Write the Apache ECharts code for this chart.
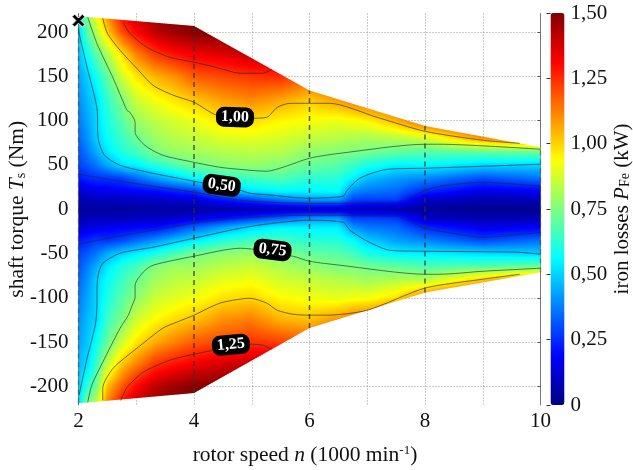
<!DOCTYPE html>
<html>
<head>
  <meta charset="utf-8">
  <title>Iron losses map</title>
  <script src="https://cdn.jsdelivr.net/npm/echarts@6/dist/echarts.min.js"></script>
  <style>html,body{margin:0;padding:0;background:#fff}</style>
</head>
<body>
  <div id="chart" style="width: 633px; height: 470px;"></div>

  <script>
    // values
    const speeds = [2, 2.15, 2.3, 2.5, 2.75, 3, 3.33, 3.66, 4, 4.5, 5, 5.5, 6, 6.5, 6.75, 7, 7.5, 8, 9, 10];
    const torques = [220, 200, 175, 150, 125, 100, 80, 65, 50, 35, 20, 10, 0,
      -10, -20, -35, -50, -65, -80, -100, -125, -150, -175, -200, -220];
    // iron losses in kW, one row per torque, one value per speed
    const losses = [
      [.53,.76,.92,1.1,1.3,1.4,1.46,1.5,1.5,1.5,1.5,1.5,1.5,1.5,1.5,1.5,1.5,1.5,1.5,1.5],
      [.49,.69,.82,1.01,1.2,1.31,1.41,1.46,1.49,1.5,1.5,1.5,1.5,1.5,1.5,1.5,1.5,1.5,1.5,1.5],
      [.46,.58,.69,.82,.98,1.12,1.23,1.29,1.33,1.36,1.41,1.42,1.4,1.4,1.4,1.4,1.4,1.4,1.4,1.4],
      [.43,.49,.58,.70,.87,.97,1.05,1.1,1.18,1.21,1.24,1.25,1.18,1.3,1.3,1.3,1.3,1.3,1.3,1.3],
      [.40,.46,.51,.64,.75,.87,.93,.98,1.03,1.09,1.12,1.08,1.02,1.1,1.15,1.2,1.25,1.3,1.3,1.3],
      [.37,.43,.50,.60,.69,.79,.84,.88,.91,.98,.99,.95,.93,.91,.93,.95,1.05,1.2,1.3,1.3],
      [.34,.40,.49,.57,.65,.72,.79,.83,.85,.89,.90,.88,.85,.83,.82,.81,.83,.87,1.1,1.2],
      [.31,.37,.44,.53,.61,.66,.75,.79,.80,.83,.84,.83,.78,.76,.75,.74,.71,.69,.71,.73],
      [.28,.32,.36,.44,.52,.55,.62,.68,.73,.77,.78,.76,.72,.69,.65,.60,.55,.56,.51,.50],
      [.22,.24,.26,.26,.28,.34,.42,.49,.56,.62,.66,.68,.63,.62,.55,.47,.42,.39,.30,.36],
      [.12,.13,.15,.16,.17,.18,.19,.23,.26,.43,.52,.55,.55,.56,.39,.36,.34,.24,.15,.17],
      [.07,.08,.09,.09,.09,.10,.10,.11,.12,.20,.27,.35,.40,.40,.28,.27,.27,.10,.07,.08],
      [.05,.05,.05,.05,.05,.05,.05,.05,.05,.06,.07,.08,.09,.09,.09,.08,.06,.04,.03,.03],
      [.07,.08,.09,.09,.09,.10,.10,.11,.14,.20,.26,.33,.40,.41,.28,.28,.27,.10,.07,.08],
      [.12,.13,.15,.16,.17,.18,.19,.25,.33,.42,.50,.55,.54,.54,.40,.36,.34,.24,.15,.17],
      [.22,.24,.27,.26,.29,.34,.40,.47,.53,.61,.66,.66,.62,.61,.56,.49,.42,.38,.29,.35],
      [.28,.32,.36,.44,.50,.54,.60,.67,.73,.77,.79,.75,.71,.69,.66,.60,.55,.54,.51,.49],
      [.31,.37,.44,.53,.61,.66,.76,.80,.80,.84,.86,.82,.78,.75,.75,.73,.71,.68,.69,.72],
      [.34,.40,.49,.57,.65,.72,.80,.84,.85,.90,.92,.87,.85,.83,.82,.80,.83,.83,1.02,1.2],
      [.37,.43,.50,.60,.69,.77,.86,.89,.92,.98,1.0,.94,.92,.90,.92,.92,.98,1.15,1.3,1.3],
      [.40,.46,.50,.65,.74,.87,.94,.99,1.03,1.1,1.13,1.05,1.03,1.1,1.15,1.18,1.25,1.3,1.3,1.3],
      [.43,.48,.57,.71,.86,.97,1.06,1.12,1.18,1.21,1.24,1.22,1.18,1.3,1.3,1.3,1.3,1.3,1.3,1.3],
      [.46,.51,.64,.84,1.02,1.12,1.24,1.29,1.33,1.38,1.41,1.42,1.36,1.4,1.4,1.4,1.4,1.4,1.4,1.4],
      [.48,.63,.72,1.03,1.18,1.31,1.41,1.46,1.49,1.5,1.5,1.5,1.45,1.5,1.5,1.5,1.5,1.5,1.5,1.5],
      [.51,.76,.83,1.13,1.3,1.4,1.46,1.5,1.5,1.5,1.5,1.5,1.45,1.5,1.5,1.5,1.5,1.5,1.5,1.5]
    ];

    // limit of the measured map
    const envelopeUpper = [[2, 218], [4, 207], [6, 134], [8, 94], [10, 70]];
    const envelopeLower = [[2, -219], [4, -207.5], [6, -134], [8, -94], [10, -71]];

    // contour lines, [speed, torque]
    const contours = [
      [[2,39.5],[2.6,33],[3.29,26],[4,19.2],[4.8,10],[5.5,7.5],[6,6.8],[7,6.8],[7.5,8],[7.69,11.3],[8,21.4],[8.26,26],[9,30.5],[10,26]],
      [[2,-39.5],[2.6,-31.6],[3.29,-23.7],[4,-15.8],[4.75,-10],[5.96,-6.8],[7.5,-7.9],[7.69,-12.4],[8,-21.4],[8.26,-24.8],[9,-31.6],[10,-26]],
      [[2,205],[2.01,198.6],[2.15,160],[2.32,114],[2.34,80],[2.45,61],[2.72,49.7],[3.29,40.6],[4,31.6],[4.8,21.4],[4.97,18],[5.37,15.8],[5.96,12.4],[6.58,14.7],[6.65,21.4],[6.87,35],[7.34,45],[8,46.3],[10,50.8]],
      [[2.01,-210],[2.15,-168],[2.29,-131],[2.32,-108],[2.32,-92],[2.34,-74.5],[2.42,-61],[2.72,-49.7],[3.29,-42.9],[4,-32.7],[4.8,-21.4],[5.37,-15.8],[5.96,-12.4],[6.58,-14.7],[6.7,-23.7],[7,-36],[7.39,-46.3],[8,-47.4],[9.6,-48.5],[10,-50.8]],
      [[2.16,216.7],[2.32,187],[2.6,148],[2.84,111.7],[2.89,109.5],[2.98,98],[2.98,87],[3.15,72.2],[3.46,61],[4,53],[4.45,47.4],[4.97,44],[5.26,42.9],[5.54,47.4],[6,57.6],[6.53,63.2],[8,73.4],[8.26,73.4],[10,67.7]],
      [[2.16,-218],[2.23,-198.6],[2.42,-172.7],[2.72,-134.3],[2.86,-120],[2.93,-108.4],[2.98,-99.3],[2.98,-85.8],[3.12,-71],[3.29,-63.2],[4,-53],[4.8,-44],[5.71,-53],[6,-58.7],[6.53,-63.2],[8,-73.4],[8.26,-73.4],[9,-70],[10,-66.6]],
      [[2.42,215.6],[2.5,198.6],[2.72,179.5],[3.01,159],[3.29,140],[3.64,128.7],[4,120.8],[4.4,106],[4.97,102.7],[5.26,103.8],[5.44,115],[5.66,119.6],[6,119.6],[6.35,119.6],[7.17,103.8],[8,88],[9,77.9],[9.64,74.5]],
      [[2.42,-215.6],[2.42,-202],[2.6,-179.5],[3.01,-157],[3.46,-134.3],[3.7,-127.5],[4,-119.6],[4.28,-110.6],[4.5,-105],[4.97,-100.5],[5.26,-106],[5.44,-114],[5.71,-118.5],[6,-119.6],[6.3,-119.6],[7,-114],[8,-89],[9,-79],[9.64,-73.4]],
      [[2.77,211],[2.89,198.6],[3.18,183],[3.58,171.6],[4,166],[4.4,160],[4.8,153.5],[5.19,153.5],[5.35,158]],
      [[2.73,-216],[2.77,-210],[2.84,-201],[3.12,-184],[3.58,-170.4],[4,-163.7],[4.97,-152.4],[5.19,-153.5],[5.35,-158]]
    ];

    // dashed measuring speeds, [speed, lowest torque, highest torque]
    const measuredSpeeds = [[2, -219, 218], [4, -207.5, 207], [6, -134, 134], [8, -94, 94], [10, -71, 70]];
    const markerPoint = [2, 213];
    const contourLabels = [
      { name: '1,00', value: [4.71, 104], rotate: -2 },
      { name: '0,50', value: [4.48, 27], rotate: -8 },
      { name: '0,75', value: [5.36, -46], rotate: -7 },
      { name: '1,25', value: [4.64, -153], rotate: 5 }
    ];
    const torqueTicks = [-200, -150, -100, -50, 0, 50, 100, 150, 200];

    const serif = 'Liberation Serif';
    const jetColors = ['#00007f', '#0000ff', '#007fff', '#00ffff', '#7fff7f', '#ffff00', '#ff7f00', '#ff0000', '#7f0000'];
    const jetRgb = jetColors.map(function (c) {
      return [parseInt(c.slice(1, 3), 16), parseInt(c.slice(3, 5), 16), parseInt(c.slice(5, 7), 16)];
    });
    const lossMax = 1.5;

    function jet(v) {
      const t = Math.max(0, Math.min(0.9999, v / lossMax)) * (jetRgb.length - 1);
      const i = Math.floor(t), f = t - i;
      const a = jetRgb[i], b = jetRgb[i + 1];
      return 'rgb(' + Math.round(a[0] + (b[0] - a[0]) * f) + ',' + Math.round(a[1] + (b[1] - a[1]) * f) + ',' + Math.round(a[2] + (b[2] - a[2]) * f) + ')';
    }

    // shading between the read values, only used for the colour of a pixel strip
    function lossAt(n, T) {
      let i = 0, j = 0;
      while (i < speeds.length - 2 && speeds[i + 1] < n) i++;
      while (j < torques.length - 2 && torques[j + 1] > T) j++;
      const fx = Math.max(0, Math.min(1, (n - speeds[i]) / (speeds[i + 1] - speeds[i])));
      const fy = Math.max(0, Math.min(1, (torques[j] - T) / (torques[j] - torques[j + 1])));
      const top = losses[j][i] + (losses[j][i + 1] - losses[j][i]) * fx;
      const bot = losses[j + 1][i] + (losses[j + 1][i + 1] - losses[j + 1][i]) * fx;
      return top + (bot - top) * fy;
    }

    function renderMap(params, api) {
      const topLeft = api.coord([2, 221]), bottomRight = api.coord([10, -221]);
      const left = topLeft[0], right = bottomRight[0], top = topLeft[1], bottom = bottomRight[1];
      const h = bottom - top, strip = 2, step = 2;
      const children = [];
      for (let x = left; x < right; x += strip) {
        const n = api.value(0) + 2 + (x + strip / 2 - left) / (right - left) * 8;
        const stops = [];
        for (let y = 0; y <= h; y += step) {
          const T = 221 - y / h * 442;
          stops.push({ offset: y / h, color: jet(lossAt(n, T)) });
        }
        children.push({
          type: 'rect',
          shape: { x: x, y: top, width: strip + 0.6, height: h },
          style: { fill: new echarts.graphic.LinearGradient(0, 0, 0, 1, stops) },
          silent: true
        });
      }
      const outline = envelopeUpper.concat(envelopeLower.slice().reverse()).map(function (p) {
        return api.coord(p);
      });
      return {
        type: 'group',
        clipPath: { type: 'polygon', shape: { points: outline } },
        children: children
      };
    }

    const chart = echarts.init(document.getElementById('chart'));

    const tickLabelStyle = { fontFamily: serif, fontSize: 21, color: '#111' };
    const gridLine = { show: true, lineStyle: { color: '#999', type: [1, 2], width: 1 } };
    const frameLine = { show: true, lineStyle: { color: '#777', width: 1 } };
    const innerTick = { show: true, inside: true, length: 3, lineStyle: { color: '#555' } };

    const series = [
      {
        type: 'custom',
        renderItem: renderMap,
        data: [[0]],
        silent: true,
        clip: false,
        z: 1
      }
    ];
    contours.forEach(function (line) {
      series.push({
        type: 'line', data: line, symbol: 'none', smooth: 0.25, silent: true, z: 3,
        lineStyle: { color: 'rgba(30,40,40,0.62)', width: 1 }
      });
    });
    measuredSpeeds.forEach(function (m) {
      const edge = m[0] === 2 || m[0] === 10;
      series.push({
        type: 'line', data: [[m[0], m[1]], [m[0], m[2]]], symbol: 'none', silent: true, z: 4, clip: false,
        lineStyle: { color: edge ? 'rgba(60,60,60,0.45)' : 'rgba(50,50,50,0.8)', width: 1.5, type: [5, 4] }
      });
    });
    series.push({
      type: 'scatter', silent: true, z: 6, symbolSize: 0,
      itemStyle: { opacity: 1 },
      data: contourLabels.map(function (l) {
        return { name: l.name, value: l.value, label: { rotate: l.rotate } };
      }),
      label: {
        show: true, position: 'inside', formatter: '{b}', color: '#fff', opacity: 1,
        fontFamily: serif, fontWeight: 'bold', fontSize: 16,
        backgroundColor: '#000', borderRadius: 8, padding: [3, 5, 1, 5]
      }
    });
    series.push({
      type: 'scatter', silent: true, z: 7, clip: false, data: [markerPoint], symbolSize: 13,
      symbol: 'path://M2 0 L5 3 L8 0 L10 2 L7 5 L10 8 L8 10 L5 7 L2 10 L0 8 L3 5 L0 2Z',
      itemStyle: { color: '#000', borderColor: '#fff', borderWidth: 1, opacity: 1 }
    });

    chart.setOption({
      animation: false,
      backgroundColor: '#fff',
      grid: [
        { left: 78.5, top: 13.5, width: 462, height: 391.5, outerBoundsMode: 'none' },
        { left: 550.5, top: 13, width: 14, height: 392, outerBoundsMode: 'none' }
      ],
      xAxis: [
        {
          type: 'value', gridIndex: 0, min: 2, max: 10, interval: 1, position: 'bottom',
          name: 'rotor speed {i|n} (1000 min{sup|-1})',
          nameLocation: 'middle', nameGap: 39, nameMoveOverlap: false,
          nameTextStyle: {
            fontFamily: serif, fontSize: 21.5, color: '#111', padding: [0, 9, 0, 0],
            rich: {
              i: { fontFamily: serif, fontSize: 21.5, fontStyle: 'italic', color: '#111' },
              sup: { fontFamily: serif, fontSize: 13, color: '#111', verticalAlign: 'top', padding: [0, 0, 6, 0] }
            }
          },
          axisLine: frameLine, axisTick: innerTick, splitLine: gridLine,
          axisLabel: Object.assign({}, tickLabelStyle, {
            margin: 6,
            formatter: function (v) { return v % 2 === 0 ? String(v) : ''; }
          })
        },
        {
          type: 'value', gridIndex: 0, min: 2, max: 10, interval: 1, position: 'top',
          axisLine: frameLine, axisTick: innerTick, splitLine: { show: false }, axisLabel: { show: false }
        },
        { type: 'value', gridIndex: 1, min: 0, max: 1, show: false }
      ],
      yAxis: [
        {
          type: 'value', gridIndex: 0, min: -221, max: 221, position: 'left',
          name: 'shaft torque {i|T}{sub|s} (Nm)',
          nameLocation: 'middle', nameGap: 50, nameRotate: 90, nameMoveOverlap: false,
          nameTextStyle: {
            fontFamily: serif, fontSize: 21.5, color: '#111',
            rich: {
              i: { fontFamily: serif, fontSize: 21.5, fontStyle: 'italic', color: '#111' },
              sub: { fontFamily: serif, fontSize: 14, color: '#111', verticalAlign: 'bottom', padding: [6, 0, 0, 0] }
            }
          },
          axisLine: frameLine,
          axisTick: Object.assign({}, innerTick, { customValues: torqueTicks }),
          splitLine: gridLine,
          axisLabel: Object.assign({}, tickLabelStyle, { customValues: torqueTicks, margin: 10 })
        },
        {
          type: 'value', gridIndex: 0, min: -221, max: 221, position: 'right',
          axisLine: frameLine,
          axisTick: Object.assign({}, innerTick, { customValues: torqueTicks }),
          splitLine: { show: false },
          axisLabel: { show: false, customValues: torqueTicks }
        },
        {
          type: 'value', gridIndex: 1, min: 0, max: 1.5, interval: 0.25, position: 'right',
          name: 'iron losses {i|P}{sub|Fe} (kW)',
          nameLocation: 'middle', nameGap: 47, nameRotate: 90, nameMoveOverlap: false,
          nameTextStyle: {
            fontFamily: serif, fontSize: 21, color: '#111',
            rich: {
              i: { fontFamily: serif, fontSize: 21, fontStyle: 'italic', color: '#111' },
              sub: { fontFamily: serif, fontSize: 14, color: '#111', verticalAlign: 'bottom', padding: [6, 0, 0, 0] }
            }
          },
          axisLine: { show: false },
          axisTick: { show: true, inside: true, length: 4, lineStyle: { color: '#333' } },
          splitLine: { show: false },
          axisLabel: Object.assign({}, tickLabelStyle, {
            margin: 6,
            formatter: function (v) { return v === 0 ? '0' : v.toFixed(2).replace('.', ','); }
          })
        }
      ],
      visualMap: {
        type: 'continuous', min: 0, max: lossMax, seriesIndex: 0, dimension: 0,
        left: 550.5, top: 13, itemWidth: 14, itemHeight: 392, padding: 0,
        calculable: false, hoverLink: false, text: null, z: 1,
        inRange: { color: jetColors }
      },
      series: series
    });
  </script>
</body>
</html>
